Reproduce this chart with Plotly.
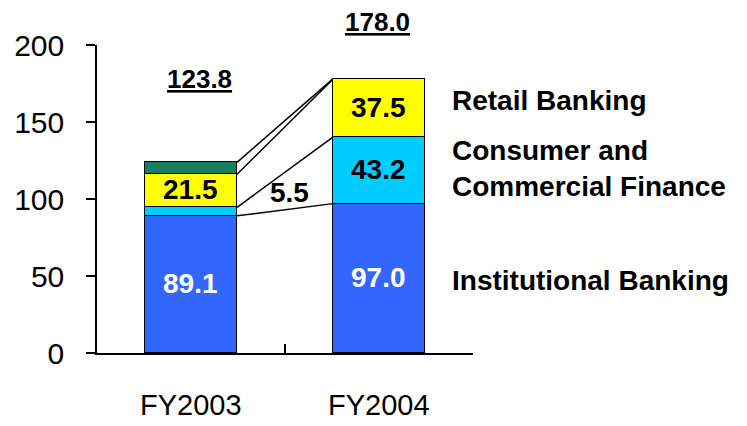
import plotly.graph_objects as go

categories = ["FY2003", "FY2004"]
institutional = [89.1, 97.0]
consumer = [5.5, 43.2]
retail = [21.5, 37.5]
other = [7.7, 0.3]
totals = [123.8, 178.0]
total_labels = ["123.8", "178.0"]
y_ticks = [0, 50, 100, 150, 200]

series_names = ["Institutional Banking", "Consumer and<br>Commercial Finance", "Retail Banking", "Other"]
series_vals = [institutional, consumer, retail, other]
colors = ["#3366FF", "#00CCFF", "#FFFF00", "#1A7F5E"]
text_colors = ["white", "black", "black", "black"]

FONT = "Liberation Sans, Arial, sans-serif"
BW = 0.49
xs = list(range(len(categories)))

fig = go.Figure()
for k, (name, vals) in enumerate(zip(series_names, series_vals)):
    texts = []
    for i, v in enumerate(vals):
        if k == 3 or (k == 1 and v < 10):
            texts.append("")
        else:
            texts.append(f"{v:.1f}")
    fig.add_trace(go.Bar(
        x=xs, y=vals, width=BW, name=name,
        marker=dict(color=colors[k], line=dict(color="black", width=1.5)),
        text=texts, textposition="inside", insidetextanchor="middle",
        textangle=0, constraintext="none",
        insidetextfont=dict(family=FONT, size=28, color=text_colors[k], weight="bold"),
        showlegend=False, hoverinfo="skip",
    ))

# connector lines between cumulative boundaries
cum = []
for i in range(len(categories)):
    c, s = [], 0
    for vals in series_vals:
        s += vals[i]
        c.append(s)
    cum.append(c)
for j in range(len(series_vals)):
    fig.add_shape(type="line", xref="x", yref="y",
                  x0=xs[0] + BW / 2, y0=cum[0][j], x1=xs[1] - BW / 2, y1=cum[1][j],
                  line=dict(color="black", width=1.5), layer="below")

# small-segment label (5.5)
fig.add_annotation(x=(xs[0] + xs[1]) / 2, y=cum[0][1], yshift=15, xshift=4,
                   text=f"{consumer[0]:.1f}", showarrow=False, yanchor="middle",
                   font=dict(family=FONT, size=28, color="black", weight="bold"))

# totals
total_shift = [83, 57]
for i in xs:
    fig.add_annotation(x=xs[i], y=totals[i], yshift=total_shift[i], xshift=8 if i == 0 else -2,
                       text=f"<u>{total_labels[i]}</u>", showarrow=False, yanchor="middle",
                       font=dict(family=FONT, size=26, color="black", weight="bold"))

# category labels
for i, c in enumerate(categories):
    fig.add_annotation(x=xs[i], y=-0.169, yref="paper", text=c, showarrow=False,
                       yanchor="middle",
                       font=dict(family=FONT, size=29, color="black"))

# segment names at right
label_specs = [("Retail Banking", 0.821), ("Consumer and<br>Commercial Finance", 0.60), ("Institutional Banking", 0.237)]
for txt, yp in label_specs:
    fig.add_annotation(x=0.939, y=yp, xref="paper", yref="paper", xanchor="left", yanchor="middle",
                       text=txt, showarrow=False, align="left",
                       font=dict(family=FONT, size=28, color="black", weight="bold"))

fig.update_layout(
    width=739, height=418,
    margin=dict(l=89, r=274, t=37, b=73),
    paper_bgcolor="white", plot_bgcolor="white",
    barmode="stack", bargap=0,
    xaxis=dict(range=[-0.5, 1.5], showline=True, linecolor="black", linewidth=1.5,
               tickvals=[0.5, 1.5], ticks="inside", ticklen=9, tickwidth=1.5, tickcolor="black",
               showticklabels=False, showgrid=False, zeroline=False, fixedrange=True,
               automargin=False),
    yaxis=dict(range=[0, 200], tickvals=y_ticks, showline=True, linecolor="black", linewidth=1.5,
               ticks="outside", ticklen=9, tickwidth=1.5, tickcolor="black",
               ticklabelstandoff=16,
               tickfont=dict(family=FONT, size=30, color="black"),
               showgrid=False, zeroline=False, fixedrange=True, automargin=False),
    font=dict(family=FONT),
)

fig.write_html("out.html")
